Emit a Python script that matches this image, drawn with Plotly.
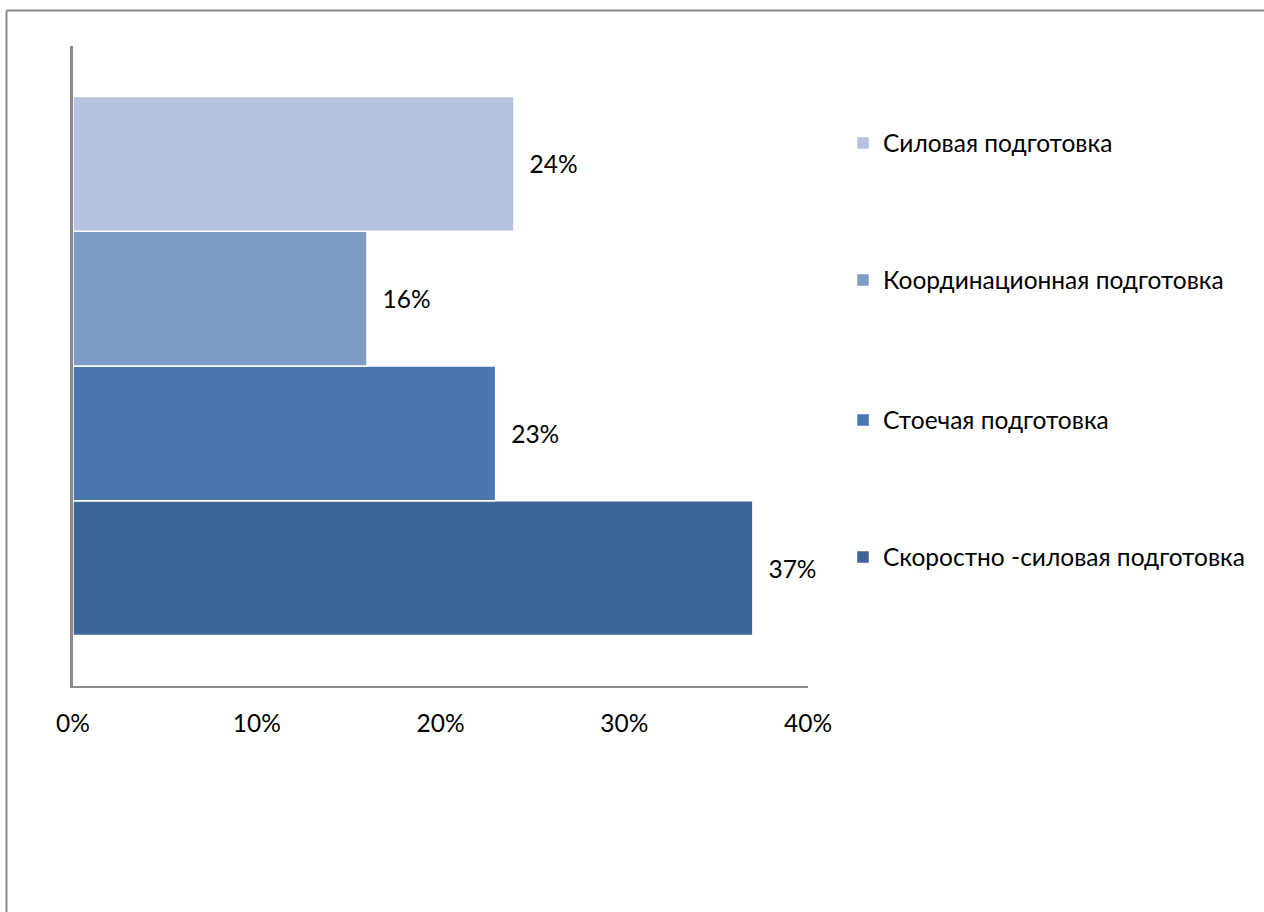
import plotly.graph_objects as go

# Data (bottom to top in the chart)
series_names = [
    "Скоростно -силовая подготовка",
    "Стоечая подготовка",
    "Координационная подготовка",
    "Силовая подготовка",
]
values = [0.37, 0.23, 0.16, 0.24]
colors = ["#3D6596", "#4878AF", "#7F9CC7", "#B6C3DF"]
category = [""]
x_ticks = [0, 0.1, 0.2, 0.3, 0.4]

W, H = 1264, 912
FONT = "Lato"
FS = 24.5
NBSP = "\u00a0"

# legend item vertical centers (pixels from top), bottom-to-top series order
legend_centers_px = [557, 420, 280, 143]

fig = go.Figure()
for i, (name, v, c) in enumerate(zip(series_names, values, colors)):
    fig.add_trace(go.Bar(
        x=[v], y=category, orientation="h", name=name,
        marker=dict(color=c, line=dict(color="white", width=1.5)),
        text=[NBSP * 2 + f"{round(v*100)}%"], textposition="outside",
        textfont=dict(family=FONT, size=FS, color="black"),
        cliponaxis=False,
        showlegend=False,
    ))
    # legend-only entry with a plain square swatch
    fig.add_trace(go.Scatter(
        x=[None], y=[None], mode="markers", name=name,
        marker=dict(symbol="square", size=11.5, color=c),
        legend="legend" if i == 0 else f"legend{i+1}",
        showlegend=True, hoverinfo="skip",
    ))

x0_px, x1_px = 73, 808
y_top_px, y_bot_px = 46, 686

layout = dict(
    width=W, height=H,
    autosize=False,
    showlegend=True,
    margin=dict(l=0, r=0, t=0, b=0, pad=0, autoexpand=False),
    paper_bgcolor="white", plot_bgcolor="white",
    barmode="group",
    bargap=0.158,
    bargroupgap=0,
    font=dict(family=FONT, size=FS, color="black"),
    xaxis=dict(
        domain=[x0_px / W, x1_px / W],
        range=[0, 0.4], tickvals=x_ticks, tickformat=".0%",
        showgrid=False, zeroline=False,
        showline=True, linecolor="#8C8C8C", linewidth=1.5,
        ticks="", ticklabelstandoff=15,
        tickfont=dict(family=FONT, size=FS, color="black"),
        fixedrange=True,
    ),
    yaxis=dict(
        domain=[1 - y_bot_px / H, 1 - y_top_px / H],
        showgrid=False, zeroline=False, showticklabels=False,
        showline=True, linecolor="#8C8C8C", linewidth=2.5,
        ticks="", fixedrange=True,
    ),
    shapes=[
        dict(type="line", xref="paper", yref="paper",
             x0=6.5 / W, x1=1.0, y0=1 - 10.5 / H, y1=1 - 10.5 / H,
             line=dict(color="#8A8A8A", width=2)),
        dict(type="line", xref="paper", yref="paper",
             x0=6.5 / W, x1=6.5 / W, y0=0, y1=1 - 10.5 / H,
             line=dict(color="#8A8A8A", width=2)),
    ],
)

for i, cy in enumerate(legend_centers_px):
    key = "legend" if i == 0 else f"legend{i+1}"
    layout[key] = dict(
        x=843 / W, xanchor="left", y=1 - cy / H, yanchor="middle",
        bgcolor="rgba(0,0,0,0)", borderwidth=0,
        font=dict(family=FONT, size=FS, color="black"),
        itemwidth=30, visible=True,
    )

fig.update_layout(**layout)
fig.write_html(
    "out.html",
    config={"displayModeBar": False},
    post_script="document.body.style.margin='0';document.body.style.overflow='hidden';",
)
